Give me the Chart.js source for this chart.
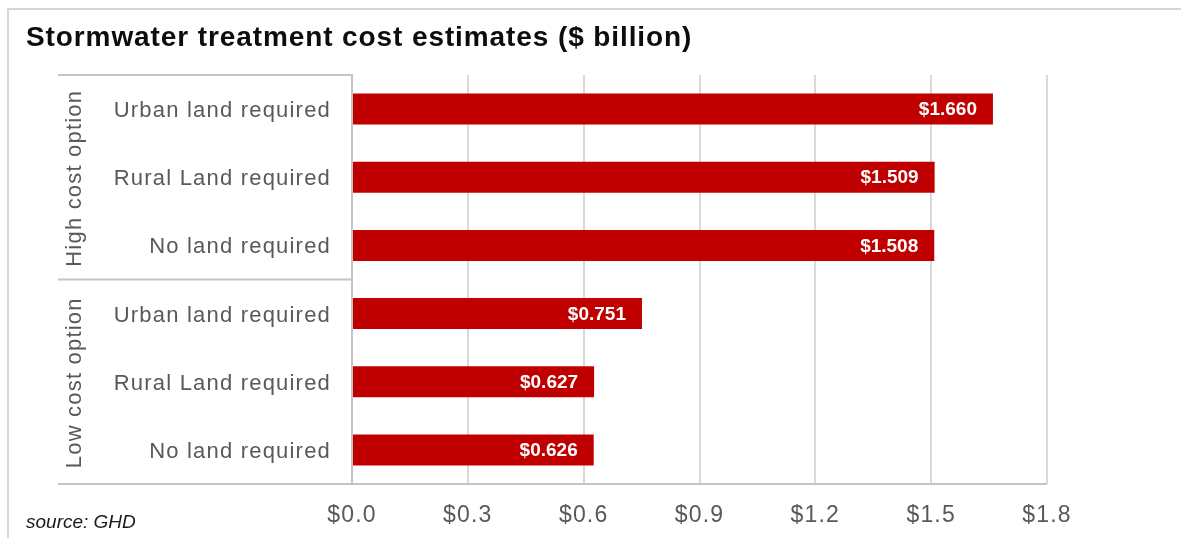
<!DOCTYPE html>
<html>
<head>
<meta charset="utf-8">
<script src="https://cdn.jsdelivr.net/npm/chart.js@4.4.0/dist/chart.umd.min.js"></script>
<style>
  body { margin: 0; width: 1181px; height: 538px; overflow: hidden; background: #fff; position: relative; font-family: "Liberation Sans", Arial, sans-serif; }
  .frame { position: absolute; left: 7px; top: 8px; width: 1300px; height: 700px; border-left: 2px solid #d6d6d6; border-top: 2px solid #d6d6d6; }
  #chart { position: absolute; left: 0; top: 0; }
  .title { position: absolute; left: 26px; top: 23px; font-size: 28px; line-height: 28px; font-weight: bold; letter-spacing: 0.9px; color: #0d0d0d; white-space: nowrap; }
  .source { position: absolute; left: 26px; top: 512px; font-size: 19px; line-height: 19px; font-style: italic; color: #1a1a1a; white-space: nowrap; }
</style>
</head>
<body>
<div class="frame"></div>
<canvas id="chart" width="1181" height="538"></canvas>
<div class="title">Stormwater treatment cost estimates ($ billion)</div>
<div class="source">source: GHD</div>
<script>
const categories = ["Urban land required", "Rural Land required", "No land required",
                    "Urban land required", "Rural Land required", "No land required"]
const groups = ["High cost option", "Low cost option"]
const groupSize = [3, 3]
const costs = [1.660, 1.509, 1.508, 0.751, 0.627, 0.626]
const xMin = 0, xMax = 1.8, xStep = 0.3

const grey = "#595959"
const lineGrey = "#c4c4c4"

// letter spacing so the Excel-ish text widths line up
const spacing = {
  id: "spacing",
  beforeDraw(chart) { chart.ctx.letterSpacing = "1.2px" },
}

// group labels + separator lines on the left
const groupsPlugin = {
  id: "groupsPlugin",
  afterDraw(chart) {
    const ctx = chart.ctx, y = chart.scales.y, area = chart.chartArea
    const x0 = 58
    ctx.save()
    ctx.strokeStyle = lineGrey
    ctx.lineWidth = 2
    ctx.beginPath()
    ctx.moveTo(x0, area.top); ctx.lineTo(area.left, area.top)
    ctx.moveTo(x0, area.bottom); ctx.lineTo(area.right, area.bottom)
    let start = 0
    groups.forEach((g, gi) => {
      const end = start + groupSize[gi] - 1
      if (gi > 0) {
        const sy = (y.getPixelForValue(start - 1) + y.getPixelForValue(start)) / 2
        ctx.moveTo(x0, sy); ctx.lineTo(area.left, sy)
      }
      start = end + 1
    })
    ctx.stroke()

    ctx.fillStyle = grey
    ctx.font = "22px 'Liberation Sans', Arial, sans-serif"
    ctx.letterSpacing = "1.2px"
    ctx.textAlign = "center"
    ctx.textBaseline = "middle"
    start = 0
    groups.forEach((g, gi) => {
      const end = start + groupSize[gi] - 1
      const cy = (y.getPixelForValue(start) + y.getPixelForValue(end)) / 2
      ctx.save()
      ctx.translate(75, cy + 1)
      ctx.rotate(-Math.PI / 2)
      ctx.fillText(g, 0, 0)
      ctx.restore()
      start = end + 1
    })
    ctx.restore()
  },
}

// white value labels at the inner end of each bar
const valueLabels = {
  id: "valueLabels",
  afterDatasetsDraw(chart) {
    const ctx = chart.ctx
    const meta = chart.getDatasetMeta(0)
    ctx.save()
    ctx.letterSpacing = "0px"
    ctx.font = "bold 19px 'Liberation Sans', Arial, sans-serif"
    ctx.fillStyle = "#ffffff"
    ctx.textAlign = "right"
    ctx.textBaseline = "middle"
    meta.data.forEach((bar, i) => {
      ctx.fillText("$" + costs[i].toFixed(3), bar.x - 16, bar.y + 1)
    })
    ctx.restore()
  },
}

new Chart(document.getElementById("chart"), {
  type: "bar",
  data: {
    labels: categories,
    datasets: [{
      data: costs,
      backgroundColor: "#c00000",
      borderWidth: 0,
      barPercentage: 0.455,
      categoryPercentage: 1,
    }],
  },
  options: {
    indexAxis: "y",
    responsive: false,
    animation: false,
    devicePixelRatio: 1,
    layout: { padding: { top: 75, right: 134, left: 0, bottom: 0 } },
    plugins: {
      legend: { display: false },
      tooltip: { enabled: false },
      title: { display: false },
    },
    scales: {
      x: {
        min: xMin,
        max: xMax,
        afterFit: (s) => { s.height = 54 },
        ticks: {
          stepSize: xStep,
          padding: 18,
          color: grey,
          font: { family: "'Liberation Sans', Arial, sans-serif", size: 23 },
          callback: (v) => "$" + Number(v).toFixed(1),
        },
        grid: { color: "#d9d9d9", lineWidth: 2, drawTicks: false },
        border: { display: false },
      },
      y: {
        afterFit: (s) => { s.width = 352 },
        ticks: {
          padding: 21,
          labelOffset: 2,
          color: grey,
          font: { family: "'Liberation Sans', Arial, sans-serif", size: 22 },
        },
        grid: { display: false, drawTicks: false },
        border: { display: true, color: lineGrey, width: 2 },
      },
    },
  },
  plugins: [spacing, groupsPlugin, valueLabels],
})
</script>
</body>
</html>
